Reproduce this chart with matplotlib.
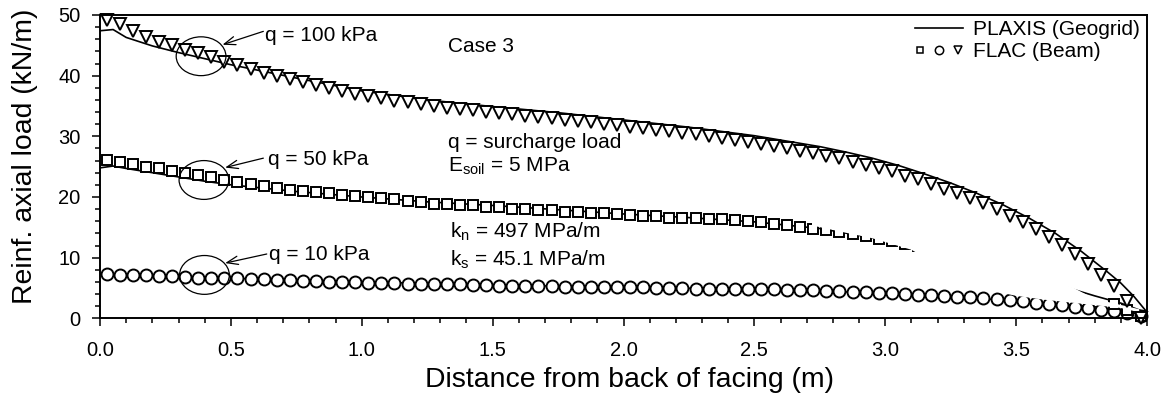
import numpy as np
import matplotlib
matplotlib.use("Agg")
import matplotlib.pyplot as plt
from matplotlib.patches import Ellipse, Polygon
from matplotlib.lines import Line2D
from matplotlib.legend_handler import HandlerTuple
from matplotlib.ticker import MultipleLocator, FormatStrFormatter

plt.rcParams["font.family"] = ["Liberation Sans", "DejaVu Sans"]
plt.rcParams["mathtext.fontset"] = "custom"
plt.rcParams["mathtext.rm"] = "Liberation Sans"
plt.rcParams["mathtext.it"] = "Liberation Sans:italic"

nan = np.nan

# FLAC beam element centres along the reinforcement (m)
flac_x = np.round(np.arange(0.025, 4.0, 0.05), 3)

# FLAC (Beam) axial loads, kN/m
flac_q100 = [49.2, 48.5, 47.3, 46.3, 45.6, 45.0, 44.3, 43.7, 43.0, 42.3,
             41.7, 41.1, 40.5, 39.9, 39.4, 38.9, 38.4, 37.9, 37.5, 37.0,
             36.6, 36.3, 35.9, 35.6, 35.3, 35.0, 34.7, 34.5, 34.3, 34.0,
             33.8, 33.6, 33.3, 33.2, 33.0, 32.7, 32.5, 32.3, 32.1, 31.9,
             31.6, 31.4, 31.1, 30.8, 30.6, 30.4, 30.0, 29.7, 29.4, 29.1,
             28.8, 28.4, 28.0, 27.6, 27.2, 26.8, 26.4, 25.8, 25.3, 24.7,
             24.2, 23.5, 22.9, 22.2, 21.3, 20.6, 19.8, 19.0, 18.0, 16.9,
             15.8, 14.7, 13.4, 12.1, 10.6, 9.0, 7.2, 5.3, 2.9, 0.0]

flac_q50 = [26.1, 25.8, 25.4, 25.0, 24.7, 24.3, 24.0, 23.6, 23.3, 22.8,
            22.4, 22.1, 21.8, 21.4, 21.2, 21.0, 20.8, 20.6, 20.4, 20.2,
            20.0, 19.8, 19.6, 19.3, 19.1, 18.9, 18.8, 18.7, 18.6, 18.4,
            18.3, 18.1, 18.0, 17.9, 17.8, 17.6, 17.5, 17.4, 17.3, 17.2,
            17.0, 16.9, 16.8, 16.6, 16.6, 16.5, 16.4, 16.3, 16.2, 16.0,
            15.8, 15.6, 15.4, 15.1, 14.8, 14.6, 14.2, 13.9, 13.5, 13.1,
            12.7, 12.3, 11.9, nan, nan, nan, nan, nan, nan, nan,
            nan, nan, nan, nan, nan, nan, nan, 2.3, 1.4, 0.4]

flac_q10 = [7.3, 7.2, 7.1, 7.1, 7.0, 6.9, 6.8, 6.7, 6.7, 6.7,
            6.6, 6.5, 6.4, 6.3, 6.3, 6.2, 6.1, 6.0, 6.0, 6.0,
            5.9, 5.9, 5.85, 5.7, 5.7, 5.6, 5.6, 5.6, 5.5, 5.5,
            5.4, 5.4, 5.3, 5.3, 5.3, 5.2, 5.2, 5.2, 5.2, 5.1,
            5.1, 5.1, 5.0, 5.0, 5.0, 4.9, 4.9, 4.9, 4.8, 4.8,
            4.8, 4.75, 4.65, 4.7, 4.6, 4.5, 4.5, 4.4, 4.3, 4.2,
            4.1, 4.0, 3.9, 3.8, 3.65, 3.55, 3.45, 3.35, 3.15, 3.0,
            2.8, 2.6, 2.4, 2.2, 1.9, 1.65, 1.4, 1.2, 0.8, 0.4]

# PLAXIS (Geogrid) axial loads, kN/m
plaxis_x100 = [0.0, 0.05, 0.1, 0.2, 0.3, 0.4, 0.5, 0.75, 1.0, 1.25, 1.5,
               1.75, 2.0, 2.25, 2.5, 2.75, 2.85, 2.95, 3.05, 3.15, 3.25,
               3.35, 3.45, 3.55, 3.65, 3.75, 3.85, 3.9, 3.95, 4.0]
plaxis_q100 = [47.4, 47.6, 46.3, 44.9, 43.8, 42.8, 41.8, 39.6, 37.5, 36.0,
               34.9, 33.9, 32.7, 31.5, 30.1, 28.3, 27.4, 26.4, 25.2, 23.8,
               22.3, 20.6, 18.7, 16.5, 14.0, 11.0, 7.6, 5.8, 3.6, 1.0]
plaxis_x50 = [0.0, 0.05, 0.1, 0.2, 0.3, 0.4, 0.5, 0.75, 1.0, 1.25, 1.5, 1.75,
              2.0, 2.25, 2.5, 2.75, 3.0, 3.2, 3.4, 3.5, 3.6, 3.7, 3.8, 3.9, 4.0]
plaxis_q50 = [24.8, 25.1, 24.7, 24.0, 23.3, 22.6, 22.0, 20.9, 20.0, 19.2,
              18.6, 17.9, 17.2, 16.6, 15.9, 14.8, 12.9, 10.7, 8.6, 7.5,
              6.3, 5.0, 3.7, 2.5, 0.9]
plaxis_x10 = [0.0, 0.5, 1.0, 1.5, 2.0, 2.5, 3.0, 3.5, 3.8, 4.0]
plaxis_q10 = [7.3, 6.6, 6.0, 5.5, 5.1, 4.8, 4.15, 2.9, 1.9, 0.5]

x_ticks = [0.0, 0.5, 1.0, 1.5, 2.0, 2.5, 3.0, 3.5, 4.0]
y_ticks = [0, 10, 20, 30, 40, 50]

fig = plt.figure(figsize=(11.67, 4.15), dpi=100)
ax = fig.add_axes([0.0857, 0.2330, 0.8972, 0.7309])

lw_line = 1.2
mk = dict(ls="none", mfc="white", mec="black", mew=1.4)

ax.plot(plaxis_x10, plaxis_q10, color="black", lw=lw_line, zorder=2)
ax.plot(plaxis_x50, plaxis_q50, color="black", lw=lw_line, zorder=2)
ax.plot(flac_x, flac_q10, marker="o", ms=8.6, zorder=3, clip_on=False, **mk)
ax.plot(flac_x, flac_q50, marker="s", ms=7.2, zorder=3, clip_on=False, **mk)

# white mask that blanks part of the lower-right curves
mask_outline = [(2.72, 16.6), (2.95, 15.3), (3.15, 13.3), (3.35, 10.6),
                (3.55, 7.6), (3.72, 5.0), (3.80, 3.2), (3.90, 2.2),
                (3.97, 1.5), (3.97, 1.0), (3.90, 1.7), (3.75, 2.4),
                (3.60, 3.1), (3.50, 3.7), (3.40, 4.6), (3.25, 7.5),
                (3.10, 11.3), (2.95, 13.2), (2.85, 14.1), (2.72, 15.3)]
ax.add_patch(Polygon(mask_outline, closed=True, facecolor="white",
                     edgecolor="none", zorder=4))

ax.plot(plaxis_x100, plaxis_q100, color="black", lw=lw_line, zorder=4.5)
ax.plot(flac_x, flac_q100, marker="v", ms=8.3, zorder=4.6, clip_on=False, **mk)

ax.set_xlim(0, 4)
ax.set_ylim(0, 50)
ax.set_xticks(x_ticks)
ax.set_yticks(y_ticks)
ax.xaxis.set_major_formatter(FormatStrFormatter("%.1f"))
ax.xaxis.set_minor_locator(MultipleLocator(0.1))
ax.yaxis.set_minor_locator(MultipleLocator(2))
ax.tick_params(which="both", direction="out", top=False, right=False,
               width=1.1, labelsize=14.5)
ax.tick_params(which="major", length=6)
ax.tick_params(which="minor", length=3.8)
ax.tick_params(axis="x", which="major", pad=10.5)
ax.tick_params(axis="y", which="major", pad=8)
for s in ax.spines.values():
    s.set_linewidth(1.4)
    s.set_zorder(6)

ax.set_xlabel("Distance from back of facing (m)", fontsize=20.4)
ax.set_ylabel("Reinf. axial load (kN/m)", fontsize=20.4)
ax.xaxis.set_label_coords(0.506, -0.16)
ax.yaxis.set_label_coords(-0.059, 0.535)

fs = 15
ax.text(1.33, 44.8, "Case 3", fontsize=fs, va="center", ha="left", zorder=5)
ax.text(1.33, 28.9, "q = surcharge load", fontsize=fs, va="center", ha="left", zorder=5)
ax.text(1.33, 25.0, r"E$_{\mathregular{soil}}$ = 5 MPa", fontsize=fs,
        va="center", ha="left", zorder=5)
ax.text(1.337, 14.3, r"k$_{\mathregular{n}}$ = 497 MPa/m", fontsize=fs,
        va="center", ha="left", zorder=5)
ax.text(1.337, 9.6, r"k$_{\mathregular{s}}$ = 45.1 MPa/m", fontsize=fs,
        va="center", ha="left", zorder=5)

# surcharge labels with circled regions and pointers
callouts = [
    ("q = 100 kPa", (0.632, 46.7), (0.624, 47.3), (0.468, 45.1), (0.386, 43.2)),
    ("q = 50 kPa", (0.640, 26.1), (0.624, 26.4), (0.478, 24.85), (0.397, 22.8)),
    ("q = 10 kPa", (0.646, 10.6), (0.637, 10.6), (0.478, 9.1), (0.399, 7.15)),
]
for label, tpos, tail, tip, centre in callouts:
    ax.text(tpos[0], tpos[1], label, fontsize=fs, va="center", ha="left", zorder=5)
    ax.annotate("", xy=tip, xytext=tail,
                arrowprops=dict(arrowstyle="->,head_length=0.8,head_width=0.3",
                                lw=0.9, color="black", shrinkA=0, shrinkB=0),
                zorder=5)
    ax.add_patch(Ellipse(centre, 0.19, 6.4, fill=False, edgecolor="black",
                         lw=0.9, zorder=5))

h_line = Line2D([], [], color="black", lw=lw_line)
leg_mk = dict(ls="none", mfc="white", mec="black", mew=1.1)
h_sq = Line2D([], [], marker="s", ms=5, **leg_mk)
h_ci = Line2D([], [], marker="o", ms=6, **leg_mk)
h_tr = Line2D([], [], marker="v", ms=6, **leg_mk)
ax.legend([h_line, (h_sq, h_ci, h_tr)], ["PLAXIS (Geogrid)", "FLAC (Beam)"],
          handler_map={tuple: HandlerTuple(ndivide=None, pad=0.4)},
          loc="upper right", bbox_to_anchor=(0.9933, 0.983), frameon=False,
          fontsize=fs, handlelength=2.3, handletextpad=0.5, borderpad=0,
          borderaxespad=0, labelspacing=0.15)

fig.savefig("out.png", dpi=100)
